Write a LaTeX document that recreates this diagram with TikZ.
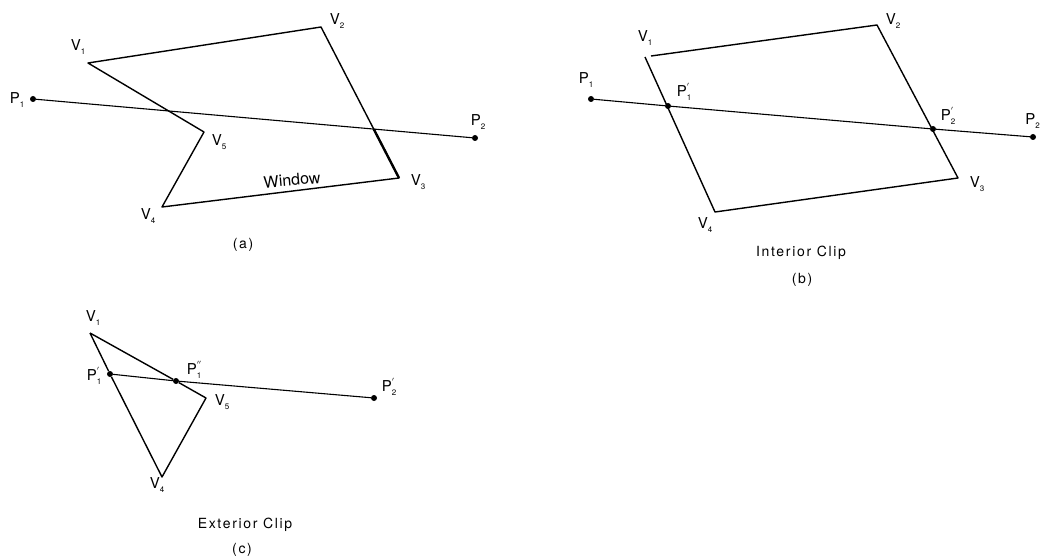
\documentclass[tikz,border=0pt]{standalone}
\usepackage{fontspec}
\usetikzlibrary{calc}
\setmainfont{TeX Gyre Heros}
\newfontfamily\capfont[LetterSpace=12]{TeX Gyre Heros}
\newcommand{\sbs}[1]{\raisebox{-0.45ex}{\fontsize{8}{8}\selectfont #1}}
\newcommand{\prs}[2]{\rlap{\raisebox{0.8ex}{\fontsize{9}{9}\selectfont #1}}\raisebox{-0.45ex}{\fontsize{8}{8}\selectfont #2}}
\tikzset{
  edge/.style={line width=1.4pt, line join=round},
  seg/.style={line width=1.1pt},
  lab/.style={inner sep=0pt, font=\fontsize{15}{15}\selectfont},
  captxt/.style={inner sep=0pt, font=\capfont\fontsize{14}{14}\selectfont},
  dot/.style={circle, fill=black, inner sep=0pt, minimum size=6pt}
}
\begin{document}
\begin{tikzpicture}[x=1pt,y=-1pt]
\useasboundingbox (0,0) rectangle (1041,559);
% ---------- (a) ----------
\coordinate (aV1) at (88,63);
\coordinate (aV2) at (321,27);
\coordinate (aV3) at (399,178);
\coordinate (aV4) at (162,207);
\coordinate (aV5) at (204,132);
\node[dot] (aP1) at (33,99) {};
\node[dot] (aP2) at (475,138) {};
\draw[edge] (aV1) -- (aV2) -- (aV3) -- (aV4) -- (aV5) -- cycle;
\draw[line width=2.4pt] ($(aV2)!0.676!(aV3)$) -- (aV3);
\draw[seg] (aP1) -- (aP2);
\node[lab] (laV1) at (78,47) {V\sbs{1}};
\node[lab] (laV2) at (337,21) {V\sbs{2}};
\node[lab] (laV3) at (418,182) {V\sbs{3}};
\node[lab] (laV4) at (148,216) {V\sbs{4}};
\node[lab] (laV5) at (219,142) {V\sbs{5}};
\node[lab] (laP1) at (17,100) {P\sbs{1}};
\node[lab] (laP2) at (478,122) {P\sbs{2}};
\node[inner sep=0pt, font=\fontsize{16}{16}\selectfont, rotate=5] (win) at (292,180) {Window};
\node[captxt] (capa) at (243,245) {(a)};
% ---------- (b) ----------
\coordinate (bV1) at (645,57);
\coordinate (bV1t) at (651,56);
\coordinate (bV2) at (877,25);
\coordinate (bV3) at (958,178);
\coordinate (bV4) at (715,212);
\node[dot] (bP1) at (591,99) {};
\node[dot] (bP2) at (1033,137) {};
\node[dot] (bQ1) at (668,106) {};
\node[dot] (bQ2) at (933,129) {};
\draw[edge] (bV1t) -- (bV2) -- (bV3) -- (bV4) -- (bV1);
\draw[seg] (bP1) -- (bQ1) -- (bQ2) -- (bP2);
\node[lab] (lbV1) at (645,38) {V\sbs{1}};
\node[lab] (lbV2) at (893,21) {V\sbs{2}};
\node[lab] (lbV3) at (977,184) {V\sbs{3}};
\node[lab] (lbV4) at (705,225) {V\sbs{4}};
\node[lab] (lbP1) at (586,80) {P\sbs{1}};
\node[lab, anchor=east] (lbP2) at (1040,121) {P\sbs{2}};
\node[lab] (lbQ1) at (684,92) {P\prs{$'$}{1}};
\node[lab] (lbQ2) at (948,116) {P\prs{$'$}{2}};
\node[captxt] (capb1) at (801,253) {Interior Clip};
\node[captxt] (capb) at (802,280) {(b)};
% ---------- (c) ----------
\coordinate (cV1) at (90,333);
\coordinate (cV5) at (206,398);
\coordinate (cV4) at (162,477);
\node[dot] (cQ1) at (110,374) {};
\node[dot] (cR1) at (176,381) {};
\node[dot] (cQ2) at (374,398) {};
\draw[edge] (cV1) -- (cR1) -- (cV5) -- (cV4) -- (cQ1) -- (cV1);
\draw[seg] (cQ1) -- (cR1) -- (cQ2);
\node[lab] (lcV1) at (93,318) {V\sbs{1}};
\node[lab] (lcQ1) at (94,376) {P\prs{$'$}{1}};
\node[lab] (lcR1) at (194,370) {P\prs{$''$}{1}};
\node[lab] (lcV5) at (222,402) {V\sbs{5}};
\node[lab] (lcV4) at (157,485) {V\sbs{4}};
\node[lab] (lcQ2) at (389,387) {P\prs{$'$}{2}};
\node[captxt] (capc1) at (245,525) {Exterior Clip};
\node[captxt] (capc) at (242,550) {(c)};
\end{tikzpicture}
\end{document}
